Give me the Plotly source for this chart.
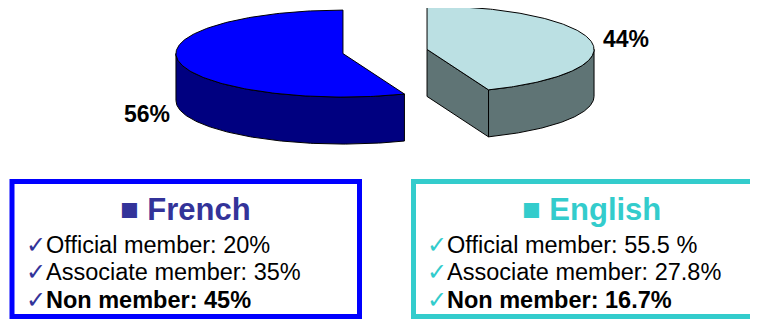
import numpy as np
import plotly.graph_objects as go

# ---- data ----
languages = ["French", "English"]
shares = [56, 44]
pct_labels = ["56%", "44%"]
french_items = ["Official member: 20%", "Associate member: 35%", "Non member: 45%"]
english_items = ["Official member: 55.5 %", "Associate member: 27.8%", "Non member: 16.7%"]
bold_flags = [False, False, True]

# ---- styles ----
top_colors = {"French": "#0000FF", "English": "#BBE0E3"}
side_colors = {"French": "#000080", "English": "#5F7475"}
box_colors = {"French": "#0000FF", "English": "#33CCCC"}
title_colors = {"French": "#333399", "English": "#33CCCC"}
FONT = "Liberation Sans, Arial, sans-serif"

W, H = 758, 320
PAGE_MARGIN = 8  # default body margin of the page
CX, CY = 385, 51.5
RX, RY = 167, 43.5
DEPTH = 47
EXPLODE = 42.8


def rim(cx, cy, th):
    t = np.radians(th)
    return cx + RX * np.sin(t), cy - RY * np.cos(t)


def poly(fig, xs, ys, color):
    fig.add_trace(go.Scatter(x=list(xs), y=list(ys), mode="lines", fill="toself",
                             fillcolor=color, line=dict(color="#000000", width=1),
                             hoverinfo="skip", showlegend=False))


fig = go.Figure()
order = ["English", "French"]  # clockwise from 12 o'clock
start = 0.0
for lang in order:
    share = shares[languages.index(lang)]
    a0, a1 = start, start + share / 100 * 360
    start = a1
    mid = np.radians((a0 + a1) / 2)
    sx = CX + EXPLODE * np.sin(mid)
    sy = CY - EXPLODE * (RY / RX) * np.cos(mid)

    # radial faces
    for ang, vis in ((a0, np.sin(np.radians(a0)) < -1e-6), (a1, np.sin(np.radians(a1)) > 1e-6)):
        if vis:
            px, py = rim(sx, sy, ang)
            poly(fig, [sx, px, px, sx, sx], [sy, py, py + DEPTH, sy + DEPTH, sy], side_colors[lang])
    # outer wall (front half)
    w0, w1 = max(a0, 90), min(a1, 270)
    if w1 > w0:
        th = np.linspace(w0, w1, 120)
        tx, ty = rim(sx, sy, th)
        xs = np.concatenate([tx, tx[::-1], tx[:1]])
        ys = np.concatenate([ty, ty[::-1] + DEPTH, ty[:1]])
        poly(fig, xs, ys, side_colors[lang])
    # top face
    th = np.linspace(a0, a1, 200)
    tx, ty = rim(sx, sy, th)
    poly(fig, np.concatenate([[sx], tx, [sx]]), np.concatenate([[sy], ty, [sy]]), top_colors[lang])

annotations = []
label_pos = {"French": (147, 114), "English": (626, 39)}
for lang, lab in zip(languages, pct_labels):
    x, y = label_pos[lang]
    annotations.append(dict(x=x, y=y, text=f"<b>{lab}</b>", showarrow=False,
                            font=dict(family=FONT, size=23, color="#000000"),
                            xanchor="center", yanchor="middle"))

boxes = {"French": (12, 181.5, 359.5, 316.5), "English": (413.5, 181.5, 770, 316.5)}
items = {"French": french_items, "English": english_items}
text_x = {"French": 24, "English": 425}
shapes = []
for lang in languages:
    x0, y0, x1, y1 = boxes[lang]
    shapes.append(dict(type="rect", xref="x", yref="y", x0=x0, y0=y0, x1=x1, y1=y1,
                       line=dict(color=box_colors[lang], width=5), fillcolor="rgba(0,0,0,0)"))
    annotations.append(dict(x=(x0 + x1) / 2, y=209, text=f"<b>\u25A0 {lang}</b>", showarrow=False,
                            font=dict(family=FONT, size=31, color=title_colors[lang]),
                            xanchor="center", yanchor="middle"))
    for i, (it, b) in enumerate(zip(items[lang], bold_flags)):
        body = f"<b>{it}</b>" if b else it
        txt = (f"<span style='color:{title_colors[lang]};font-size:24px'>\u2713</span>"
               f"{body}")
        annotations.append(dict(x=text_x[lang], y=244 + i * 27.5, text=txt, showarrow=False,
                                font=dict(family=FONT, size=23.5, color="#000000"),
                                xanchor="left", yanchor="middle"))

fig.update_layout(
    width=W - PAGE_MARGIN, height=H - PAGE_MARGIN, margin=dict(l=0, r=0, t=0, b=0),
    paper_bgcolor="#FFFFFF", plot_bgcolor="#FFFFFF",
    xaxis=dict(range=[PAGE_MARGIN, W], visible=False, fixedrange=True),
    yaxis=dict(range=[H, PAGE_MARGIN], visible=False, fixedrange=True),
    shapes=shapes, annotations=annotations, showlegend=False,
)
fig.write_html("out.html")
